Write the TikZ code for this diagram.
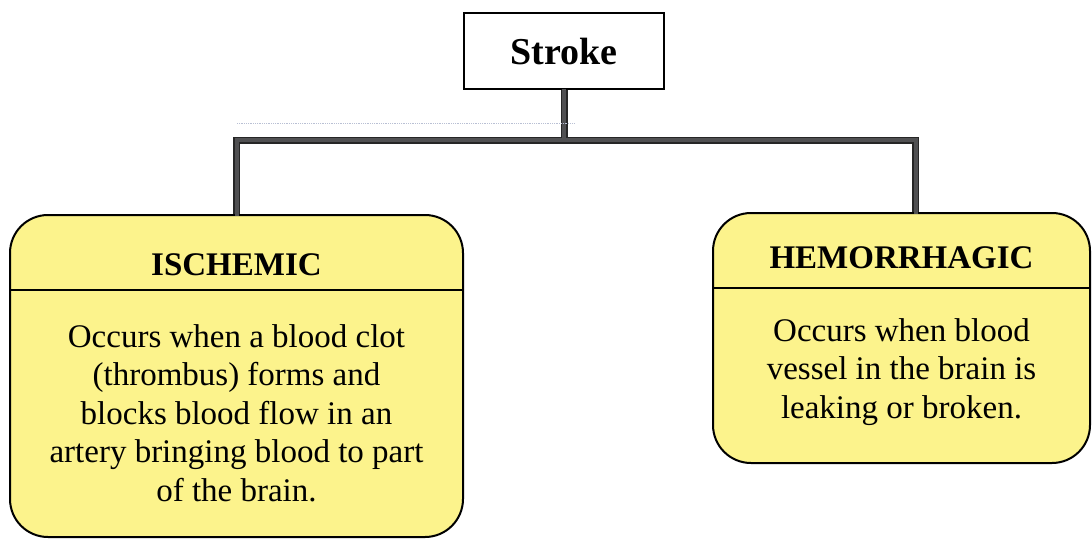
\documentclass[tikz,border=0pt]{standalone}
\usepackage{fontspec}
\setmainfont{Liberation Serif}
\definecolor{boxyellow}{RGB}{252,243,140}
\definecolor{barcol}{RGB}{80,80,82}
\definecolor{faintblue}{RGB}{185,192,212}
\begin{document}
\begin{tikzpicture}[x=1pt,y=-1pt,
  box/.style={draw=black,line width=2pt,fill=boxyellow,rounded corners=38pt,inner sep=0pt},
  topbox/.style={draw=black,line width=2.2pt,fill=white,inner sep=0pt,minimum width=200pt,minimum height=76pt},
  head/.style={font=\fontsize{33}{38}\selectfont\bfseries,inner sep=0pt},
  body/.style={font=\fontsize{33}{38.5}\selectfont,align=center,inner sep=0pt},
  connout/.style={draw=black!85,line width=7pt,line join=miter},
  connin/.style={draw=barcol,line width=4pt,line join=miter},
  divider/.style={draw=black,line width=2pt}]
\useasboundingbox (0,0) rectangle (1092,539);
% boxes
\node[topbox] (stroke) at (564,51) {};
\node[font=\fontsize{38}{42}\selectfont\bfseries,inner sep=0pt] (strokelbl) at (564,51) {Stroke};
\node[box,minimum width=453pt,minimum height=322pt] (isch) at (236.5,376) {};
\node[box,minimum width=377pt,minimum height=250pt] (hem) at (901.5,338) {};
% dividers
\coordinate (dl) at (0,290);
\coordinate (dr) at (0,288);
\draw[divider] (isch.west |- dl) -- (isch.east |- dl);
\draw[divider] (hem.west |- dr) -- (hem.east |- dr);
% texts
\node[head] (ischhead) at (236.5,265) {ISCHEMIC};
\node[body] (ischbody) at (236.5,413) {Occurs when a blood clot\\(thrombus) forms and\\blocks blood flow in an\\artery bringing blood to part\\of the brain.};
\node[head] (hemhead) at (901.5,258) {HEMORRHAGIC};
\node[body] (hembody) at (901.5,372) {Occurs when blood\\vessel in the brain is\\leaking or broken.};
% connectors
\coordinate (jl) at (236.5,140);
\coordinate (jr) at (915.5,140);
\draw[connout] (stroke.south) -- (stroke.south |- jl);
\draw[connout] (isch.north -| jl) -- (jl) -- (jr) -- (hem.north -| jr);
\draw[connin] ([yshift=1.5pt]stroke.south) -- (stroke.south |- jl);
\draw[connin] ([yshift=-1.5pt]isch.north -| jl) -- (jl) -- (jr) -- ([yshift=-1.5pt]hem.north -| jr);
% faint scan line
\coordinate (fa) at (237,123);
\coordinate (fb) at (575,123);
\draw[faintblue,line width=0.8pt,densely dotted] (fa) -- (fb);
\end{tikzpicture}
\end{document}
